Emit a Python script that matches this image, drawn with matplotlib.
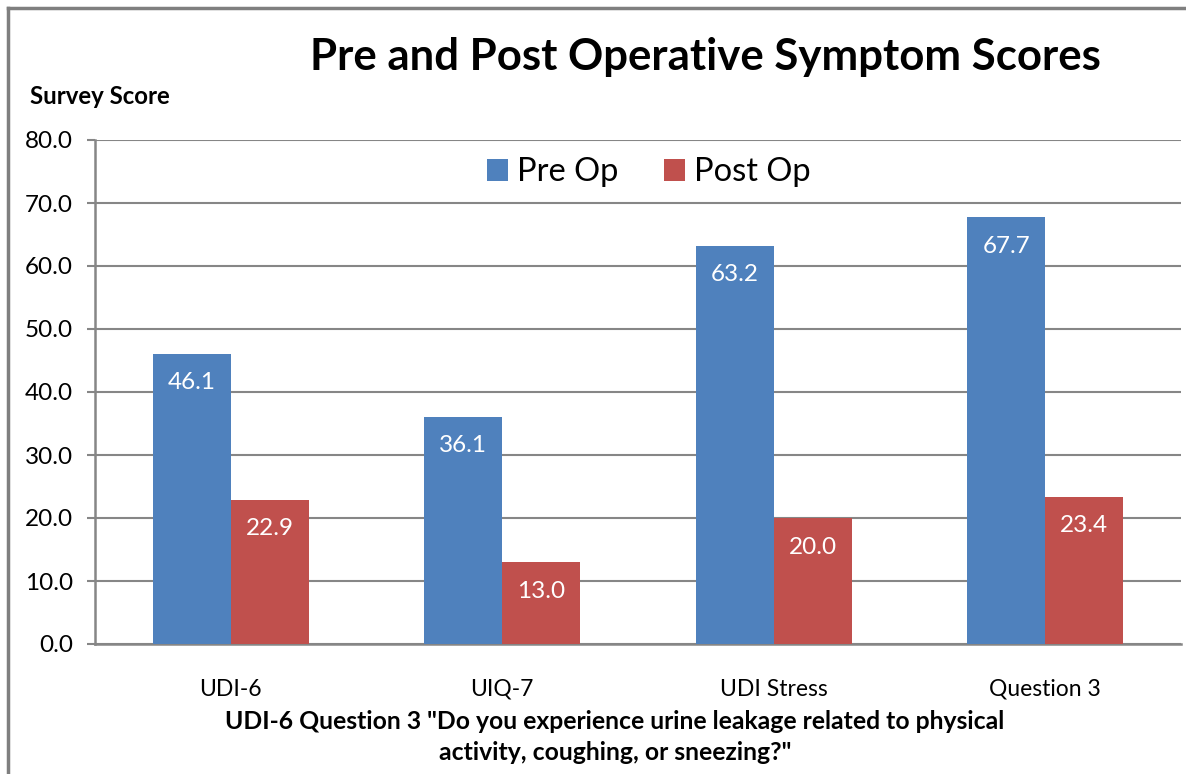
import matplotlib.pyplot as plt
import numpy as np
from matplotlib.lines import Line2D

plt.rcParams['font.family'] = ['Lato', 'DejaVu Sans']

categories = ['UDI-6', 'UIQ-7', 'UDI Stress', 'Question 3']
pre_op = [46.1, 36.1, 63.2, 67.7]
post_op = [22.9, 13.0, 20.0, 23.4]
series_names = ['Pre Op', 'Post Op']
y_ticks = [0, 10, 20, 30, 40, 50, 60, 70, 80]

blue = '#4F81BD'
red = '#C0504D'
grid_col = '#868686'

fig = plt.figure(figsize=(11.86, 7.74), dpi=100)
fig.patch.set_edgecolor('white')
fig.patch.set_linewidth(0)
ax = fig.add_axes([95 / 1186, 130 / 774, 1086 / 1186, 504 / 774])

x = np.arange(len(categories))
w = 0.287
b1 = ax.bar(x - w / 2, pre_op, w, color=blue, label=series_names[0], zorder=3)
b2 = ax.bar(x + w / 2, post_op, w, color=red, label=series_names[1], zorder=3)

for bars, vals in [(b1, pre_op), (b2, post_op)]:
    for r, v in zip(bars, vals):
        ax.annotate(f'{v:.1f}', (r.get_x() + r.get_width() / 2, v),
                    xytext=(0, -29), textcoords='offset pixels',
                    ha='center', va='center', color='white', fontsize=17.5, zorder=4)

ax.set_xlim(-0.5, len(categories) - 0.5)
ax.set_ylim(0, 80)
ax.set_yticks(y_ticks)
ax.set_yticklabels([f'{t:.1f}' for t in y_ticks], fontsize=17.5)
ax.set_xticks(x)
ax.set_xticklabels(categories, fontsize=16.5)
ax.tick_params(axis='x', length=0, pad=25)
ax.tick_params(axis='y', length=6, width=1.5, color=grid_col, pad=10)
ax.yaxis.grid(True, color=grid_col, linewidth=1.5, zorder=0)
for s in ['top', 'right']:
    ax.spines[s].set_visible(False)
for s in ['left', 'bottom']:
    ax.spines[s].set_color(grid_col)
    ax.spines[s].set_linewidth(1.8)

ax.legend(loc='upper center', bbox_to_anchor=(0.51, 1.024), ncol=2, frameon=False,
          fontsize=23.5, handlelength=0.64, handleheight=0.64, columnspacing=1.38,
          handletextpad=0.3)

fig.text(705 / 1186, 1 - 57 / 774, 'Pre and Post Operative Symptom Scores',
         ha='center', va='center', fontsize=31.5, fontweight='bold')
fig.text(30 / 1186, 1 - 96 / 774, 'Survey Score', ha='left', va='center',
         fontsize=17.3, fontweight='bold')
fig.text(615 / 1186, 1 - 737 / 774,
         'UDI-6 Question 3 "Do you experience urine leakage related to physical\nactivity, coughing, or sneezing?"',
         ha='center', va='center', fontsize=17.8, fontweight='bold', linespacing=1.4)

# chart border (left and top visible)
fig.lines.append(Line2D([7.5 / 1186, 7.5 / 1186], [0, 1 - 7.5 / 774], transform=fig.transFigure,
                        color='#7F7F7F', linewidth=2.5))
fig.lines.append(Line2D([7.5 / 1186, 1], [1 - 7.5 / 774, 1 - 7.5 / 774], transform=fig.transFigure,
                        color='#7F7F7F', linewidth=2.5))

fig.savefig('out.png', dpi=100)
